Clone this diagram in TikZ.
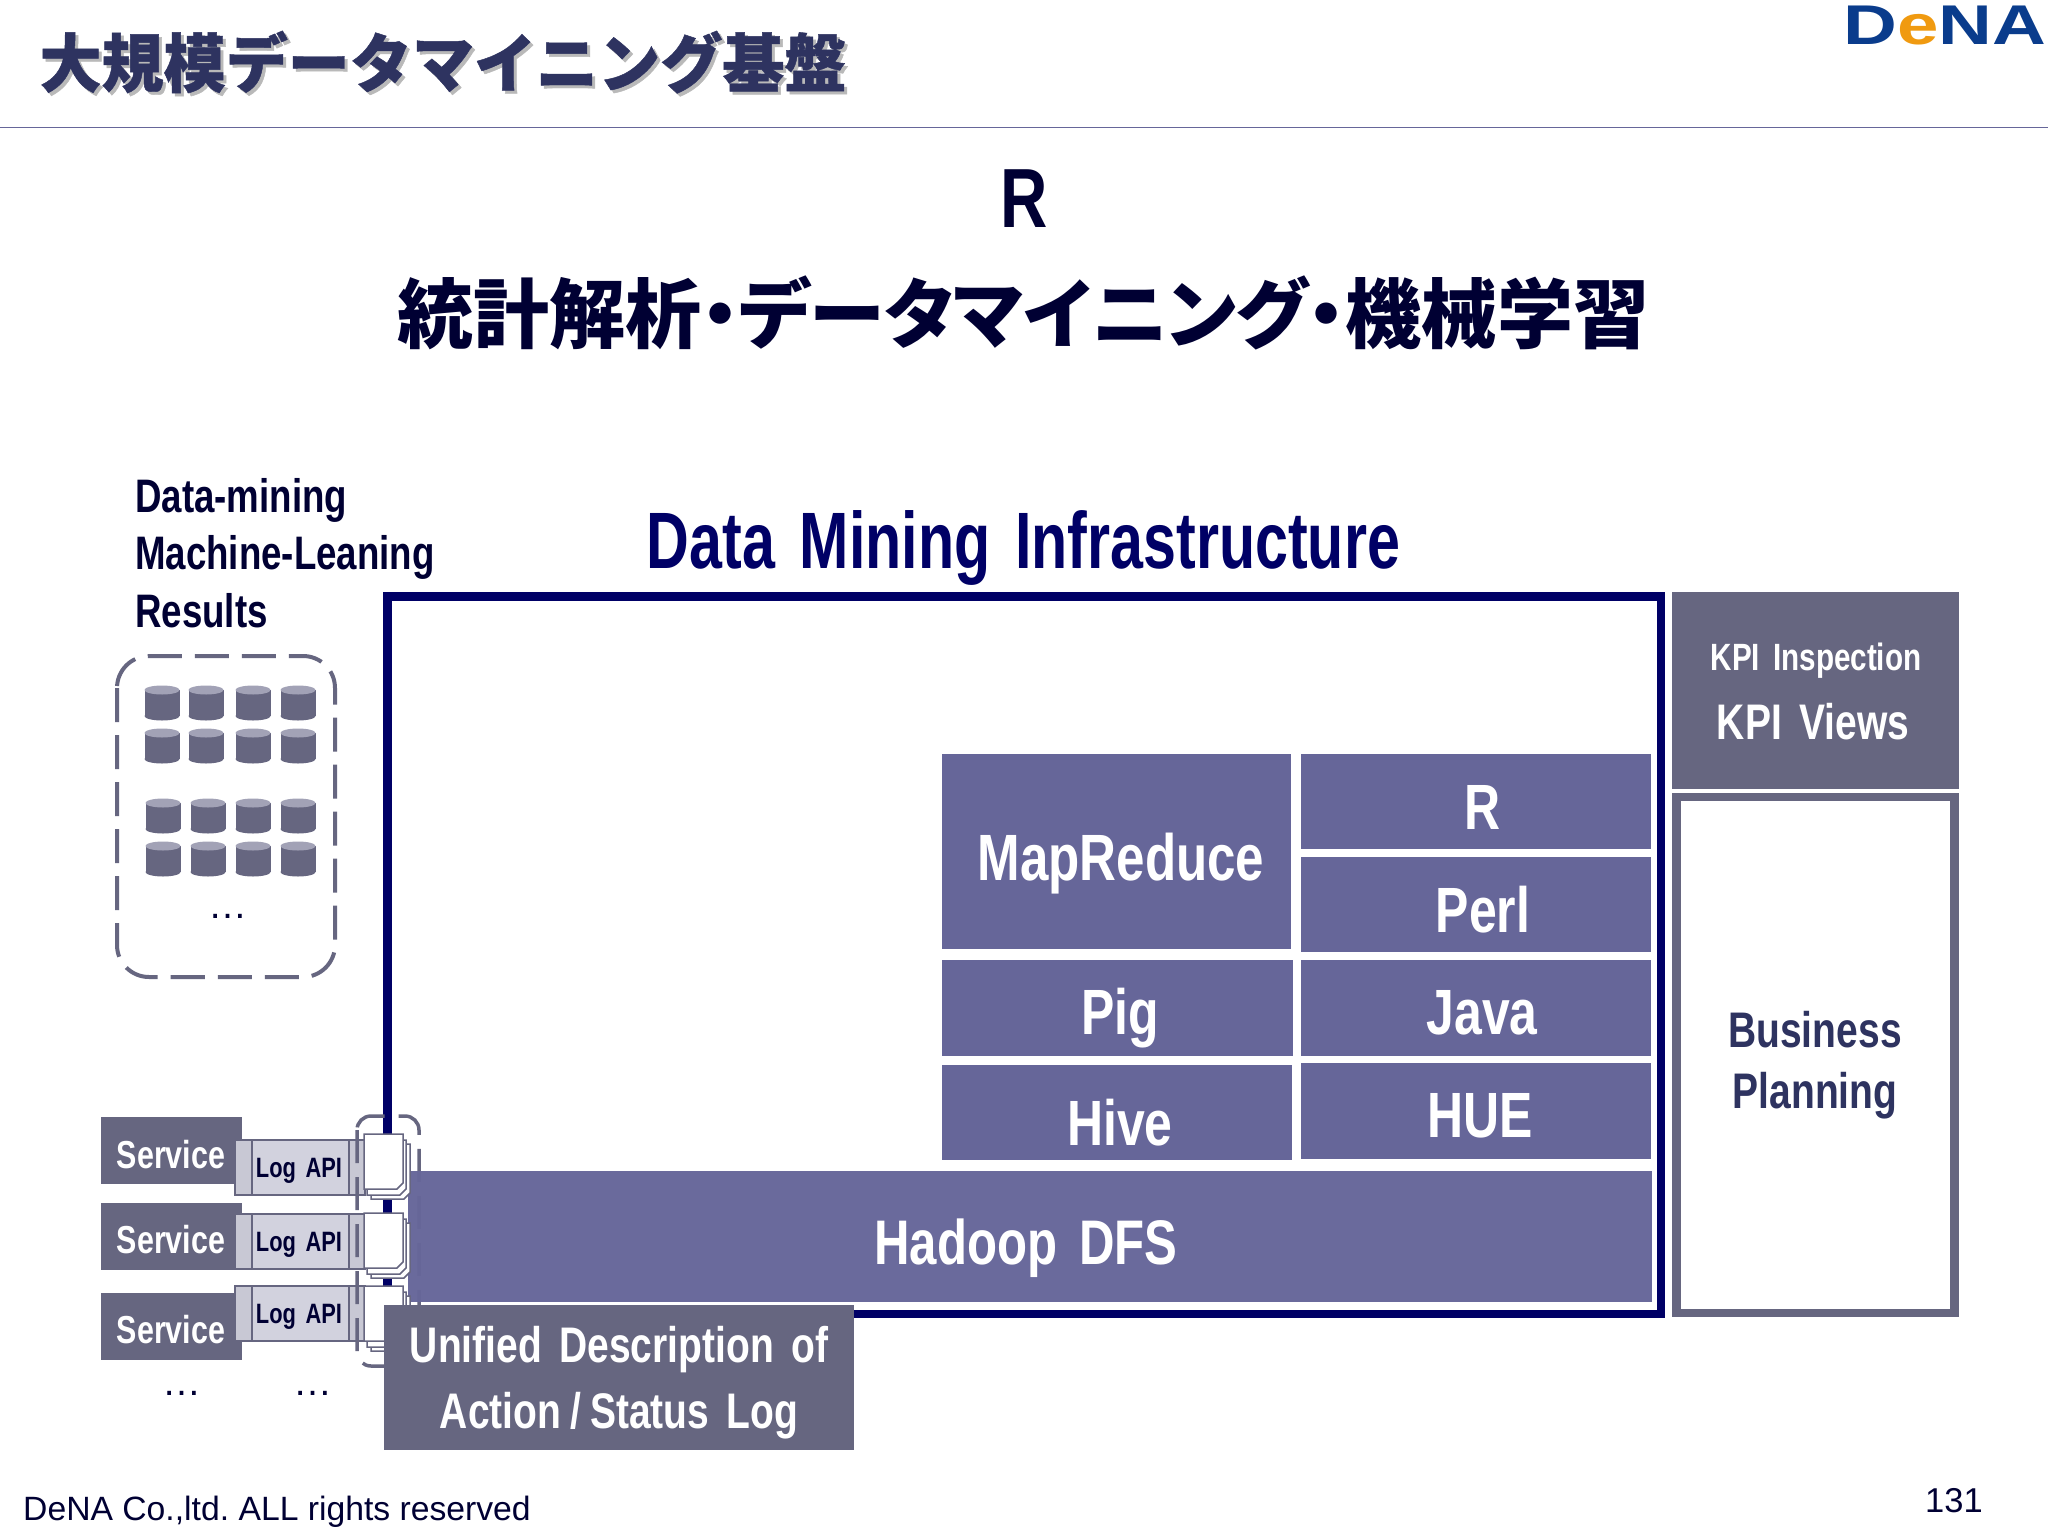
\documentclass[tikz,border=0pt]{standalone}
\usepackage{fontspec}
\usepackage{xcolor}
\usepackage{tikz}
\setmainfont{Liberation Sans}
\newfontfamily\narrowfont[FakeStretch=0.78,WordSpace=1.6]{Liberation Sans}
\newfontfamily\infrafont[FakeStretch=0.74,WordSpace=1.5]{Liberation Sans}
\newfontfamily\logofont[FakeStretch=1.33]{Liberation Sans}
\newfontfamily\cjkfont[RawFeature=+palt]{Noto Sans CJK JP}
\newfontfamily\titlefont[FakeStretch=0.97,FakeBold=0.7]{Noto Sans CJK JP}
\definecolor{navyline}{HTML}{000066}
\definecolor{inktext}{HTML}{000033}
\definecolor{titleink}{HTML}{2E3360}
\definecolor{stackblue}{HTML}{666699}
\definecolor{slategray}{HTML}{666680}
\definecolor{logfill}{HTML}{D2D2DE}
\definecolor{logside}{HTML}{C8C8D4}
\definecolor{cyltop}{HTML}{A2A2B6}
\definecolor{logoblue}{HTML}{0A3C8C}
\definecolor{logoorange}{HTML}{F09A10}
\frenchspacing
\tikzset{
  lbl/.style={anchor=base, inner sep=0pt, text=white, font=\narrowfont\bfseries\fontsize{#1}{#1}\selectfont},
  plain/.style={anchor=base, inner sep=0pt, text=inktext, font=\fontsize{#1}{#1}\selectfont},
  dbcyl/.pic={
    \fill[slategray] (0,13) ellipse (17.5 and 4.5);
    \fill[slategray] (-17.5,-13) rectangle (17.5,13);
    \fill[cyltop] (0,-13) ellipse (17.5 and 4.5);
  },
  logdoc/.pic={
    \foreach \dx/\dy in {7/10,3/6,0/0}
      \draw[slategray, line width=1.5pt, fill=white] (\dx,\dy) -- (\dx+39,\dy) -- (\dx+39,\dy+49)
        -- (\dx+33,\dy+55) -- (\dx,\dy+55) -- cycle;
  }
}
\begin{document}
\begin{tikzpicture}[x=1pt, y=-1pt]
  \useasboundingbox (0,0) rectangle (2048,1536);
  \fill[white] (0,0) rectangle (2048,1536);
  % header
  \node[plain=64, text=gray!55, font=\titlefont\bfseries\fontsize{64}{64}\selectfont] (titleshadow) at (446,90) {大規模データマイニング基盤};
  \node[plain=64, text=titleink, font=\titlefont\bfseries\fontsize{64}{64}\selectfont] (title) at (443,87) {大規模データマイニング基盤};
  \draw[stackblue, line width=1.5pt] (0,127.5) -- (2048,127.5);
  \node[plain=56, font=\logofont\bfseries\fontsize{56}{56}\selectfont, text=logoblue] (logo) at (1945,45) {D{\color{logoorange}e}NA};
  % headings
  \node[lbl=84, text=inktext] (bigr) at (1024.5,227) {R};
  \node[plain=76, font=\cjkfont\bfseries\fontsize{76}{76}\selectfont] (subtitle) at (1023.5,342) {統計解析・データマイニング・機械学習};
  \node[plain=80, font=\infrafont\bfseries\fontsize{80}{80}\selectfont, text=navyline] (infra) at (1023.5,568) {Data Mining Infrastructure};
  \node[lbl=47, text=inktext, anchor=base west] (results1) at (135,512) {Data-mining};
  \node[lbl=47, text=inktext, anchor=base west] (results2) at (135,569) {Machine-Leaning};
  \node[lbl=47, text=inktext, anchor=base west] (results3) at (135,627) {Results};
  % mining results
  \draw[slategray, line width=4pt, rounded corners=32pt, dash pattern=on 34pt off 13pt] (117,656) rectangle (335,977);
  \foreach \cx in {162,206,253,298}
    \foreach \cy in {703,746}
      \pic at (\cx,\cy) {dbcyl};
  \foreach \cx in {163,208,253,298}
    \foreach \cy in {816,859}
      \pic at (\cx,\cy) {dbcyl};
  \node[plain=39] (moreresults) at (228,918) {…};
  % infrastructure
  \draw[navyline, line width=8.5pt] (387.5,596.5) rectangle (1661,1314);
  \foreach \sy/\ly [count=\n] in {1117/1140,1203/1214,1293/1286} {
    \fill[slategray] (101,\sy) rectangle (242,\sy+67);
    \draw[slategray, line width=1.5pt, fill=logfill] (235,\ly) rectangle (365,\ly+55);
    \draw[slategray, line width=1.5pt, fill=logside] (235,\ly) rectangle (252,\ly+55);
    \draw[slategray, line width=1.5pt, fill=logside] (349,\ly) rectangle (365,\ly+55);
  }
  \draw[slategray, line width=3.5pt, rounded corners=14pt, dash pattern=on 33pt off 14pt] (357,1116) rectangle (419,1366);
  \fill[stackblue, opacity=0.97] (408,1171) rectangle (1652,1302);
  \foreach \dy in {1134,1213,1286}
    \pic at (364,\dy) {logdoc};
  \fill[stackblue] (942,754) rectangle (1291,949);
  \fill[stackblue] (1301,754) rectangle (1651,849);
  \fill[stackblue] (1300.5,857) rectangle (1650.5,952);
  \fill[stackblue] (942,960) rectangle (1292.5,1055.5);
  \fill[stackblue] (1300.5,960) rectangle (1650.5,1055.5);
  \fill[stackblue] (942,1064.5) rectangle (1292,1160);
  \fill[stackblue] (1300.5,1063) rectangle (1650.5,1158.5);
  \node[lbl=65.5] (mapreduce) at (1121,880.5) {MapReduce};
  \node[lbl=64] (rlang) at (1483,829) {R};
  \node[lbl=64] (perl) at (1483,932) {Perl};
  \node[lbl=64] (pig) at (1120.5,1034) {Pig};
  \node[lbl=64] (java) at (1482,1034) {Java};
  \node[lbl=64] (hive) at (1120,1145) {Hive};
  \node[lbl=64] (hue) at (1480,1137.5) {HUE};
  \node[lbl=63] (hadoop) at (1026,1264) {Hadoop DFS};
  % kpi column
  \fill[slategray] (1672,592) rectangle (1959,788.5);
  \node[lbl=38] (kpiinspect) at (1816,670) {KPI Inspection};
  \node[lbl=50] (kpiviews) at (1813,739.5) {KPI Views};
  \draw[slategray, line width=8.5pt, fill=white] (1676.5,797) rectangle (1954.5,1313);
  \node[lbl=50, text=titleink] (business) at (1815,1047) {Business};
  \node[lbl=50, text=titleink] (planning) at (1815,1108) {Planning};
  % log sources
  \foreach \sb/\lb [count=\n] in {1168/1177,1253/1251,1343/1323} {
    \node[lbl=39] (service\n) at (171,\sb) {Service};
    \node[lbl=28, text=inktext] (logapi\n) at (299,\lb) {Log API};
  }
  \node[plain=39] (moreservice) at (182,1395) {…};
  \node[plain=39] (morelog) at (313,1395) {…};
  \fill[slategray] (384,1305) rectangle (854,1450);
  \node[lbl=50] (unified1) at (619,1362) {Unified Description of};
  \node[lbl=50] (unified2) at (619,1428) {Action\kern9pt/\kern9pt Status Log};
  % footer
  \node[plain=33.7, anchor=base west] (copyright) at (23,1520) {DeNA Co.,ltd. ALL rights reserved};
  \node[plain=34.5] (pageno) at (1954,1512) {131};
\end{tikzpicture}
\end{document}
